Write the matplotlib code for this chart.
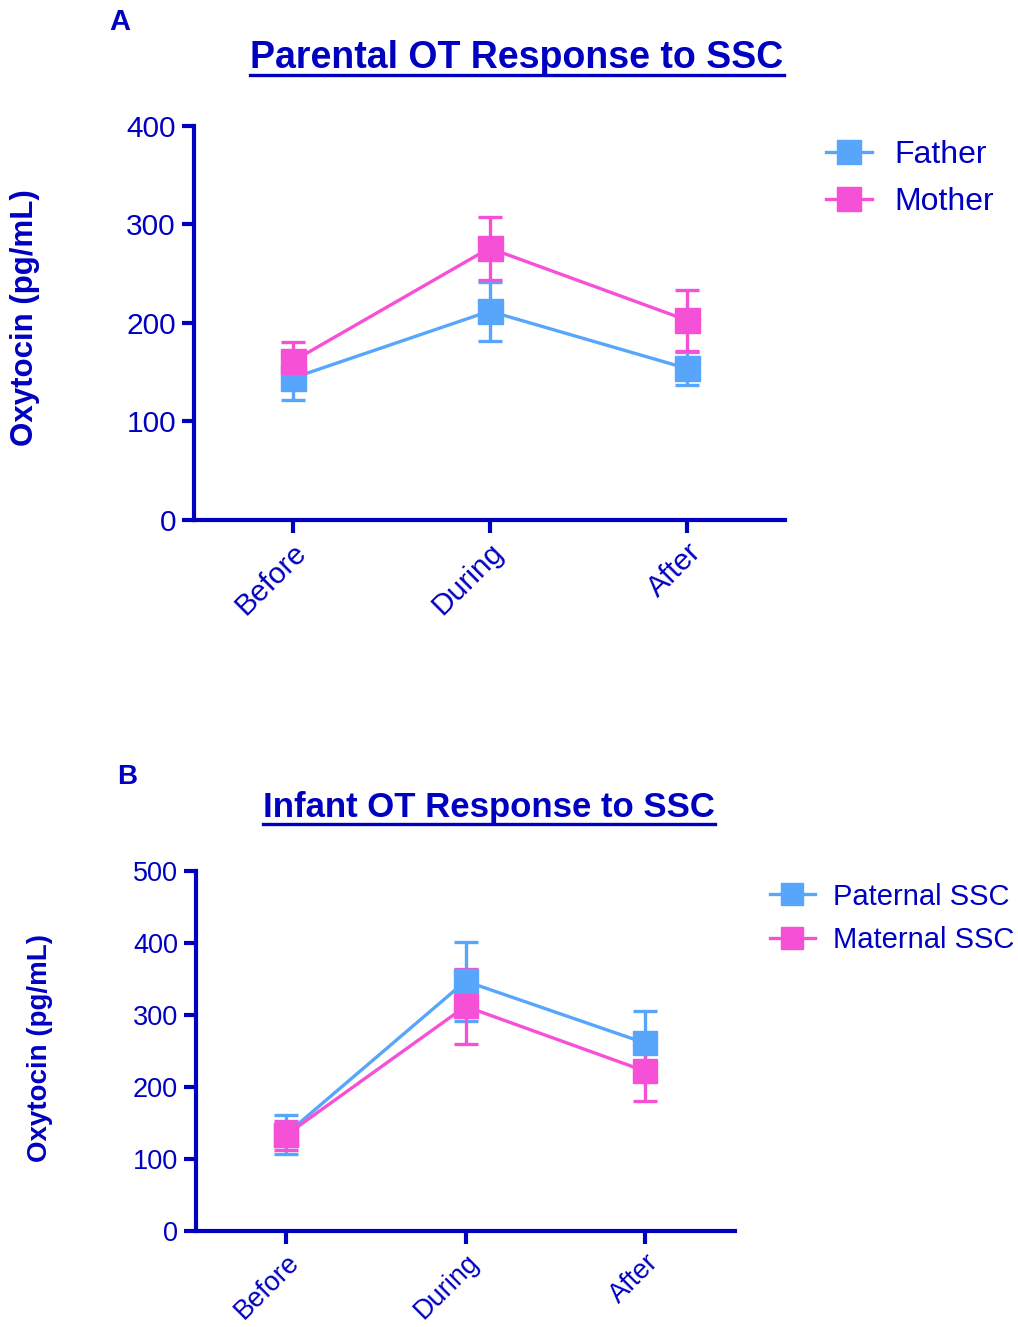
import matplotlib

matplotlib.use("Agg")
import matplotlib.pyplot as plt
import matplotlib.transforms as mtransforms
from matplotlib.lines import Line2D

plt.rcParams["font.family"] = ["Liberation Sans", "DejaVu Sans"]

W, H = 1018, 1327
DARK = "#0000C0"
BLUE = "#58A6FB"
PINK = "#F651D6"

# --- Daten ---
categories = ["Before", "During", "After"]

father_mean = [144, 212, 154]
father_sem = [22, 30, 17]
mother_mean = [161, 276, 203]
mother_sem = [20, 32, 31]

paternal_mean = [134, 347, 261]
paternal_sem = [27, 55, 44]
maternal_mean = [133, 312, 222]
maternal_sem = [20, 52, 41]


def px(x, y):
    """Pixel (von oben links) -> Figure-Koordinaten."""
    return x / W, 1 - y / H


fig = plt.figure(figsize=(W / 100, H / 100), dpi=100, facecolor="white")


def panel(rect, s1, s2, ymax, ystep, ms, tick_fs):
    ax = fig.add_axes(rect)
    xs = range(len(categories))
    for (mean, sem), color in zip([s1, s2], [BLUE, PINK]):
        ax.errorbar(
            xs, mean, yerr=sem, color=color, ecolor=color,
            marker="s", markersize=ms, linewidth=2.4, elinewidth=2.4,
            capsize=8.5, capthick=2.4, zorder=3,
        )
    ax.set_xlim(-0.5, 2.5)
    ax.set_ylim(0, ymax)
    ax.set_yticks(range(0, ymax + 1, ystep))
    ax.set_xticks(list(xs))
    ax.set_xticklabels(categories, rotation=45, ha="right", rotation_mode="anchor")
    # Labels etwas nach links unten schieben
    shift = mtransforms.ScaledTranslation(-6 / 72, -2 / 72, fig.dpi_scale_trans)
    for lab in ax.get_xticklabels():
        lab.set_transform(lab.get_transform() + shift)
    for side in ["top", "right"]:
        ax.spines[side].set_visible(False)
    for side in ["left", "bottom"]:
        ax.spines[side].set_color(DARK)
        ax.spines[side].set_linewidth(3.0)
    ax.tick_params(colors=DARK, width=3.0, length=9, labelsize=tick_fs, pad=4)
    return ax


def legend(ax, labels, anchor, fs, ms, hl, tp, ls):
    handles = [
        Line2D([], [], color=c, marker="s", markersize=ms, linewidth=2.4)
        for c in [BLUE, PINK]
    ]
    ax.legend(
        handles, labels, loc="upper left", bbox_to_anchor=px(*anchor),
        bbox_transform=fig.transFigure, frameon=False, fontsize=fs,
        labelcolor=DARK, handlelength=hl, handletextpad=tp,
        labelspacing=ls, borderaxespad=0,
    )


axA = panel(
    [194 / W, 1 - 520 / H, 591 / W, 394 / H],
    (father_mean, father_sem), (mother_mean, mother_sem),
    400, 100, 18, 21.5,
)
axB = panel(
    [196 / W, 1 - 1231 / H, 539 / W, 360 / H],
    (paternal_mean, paternal_sem), (maternal_mean, maternal_sem),
    500, 100, 17, 19.5,
)

legend(axA, ["Father", "Mother"], (813, 127), 23, 17, 1.45, 0.7, 0.55)
legend(axB, ["Paternal SSC", "Maternal SSC"], (758, 871), 21, 16, 1.55, 0.62, 0.52)

# Achsentitel
fig.text(*px(25, 318), "Oxytocin (pg/mL)", rotation=90, ha="center", va="center",
         fontsize=22.5, fontweight="bold", color=DARK)
fig.text(*px(40, 1048), "Oxytocin (pg/mL)", rotation=90, ha="center", va="center",
         fontsize=20, fontweight="bold", color=DARK)

# Panel-Buchstaben
fig.text(*px(120, 22), "A", ha="center", va="center", fontsize=21,
         fontweight="bold", color=DARK)
fig.text(*px(127, 777), "B", ha="center", va="center", fontsize=20,
         fontweight="bold", color=DARK)

# Titel (unterstrichen)
titles = [
    fig.text(*px(517, 58), "Parental OT Response to SSC", ha="center", va="center",
             fontsize=27, fontweight="bold", color=DARK),
    fig.text(*px(489, 808), "Infant OT Response to SSC", ha="center", va="center",
             fontsize=25, fontweight="bold", color=DARK),
]

fig.canvas.draw()
renderer = fig.canvas.get_renderer()
for t in titles:
    bb = t.get_window_extent(renderer)
    y = bb.y0 + 1
    fig.add_artist(Line2D(
        [bb.x0 / W, bb.x1 / W], [y / H, y / H],
        transform=fig.transFigure, color=DARK, linewidth=2.4,
    ))

fig.savefig("out.png", dpi=100, facecolor="white")
